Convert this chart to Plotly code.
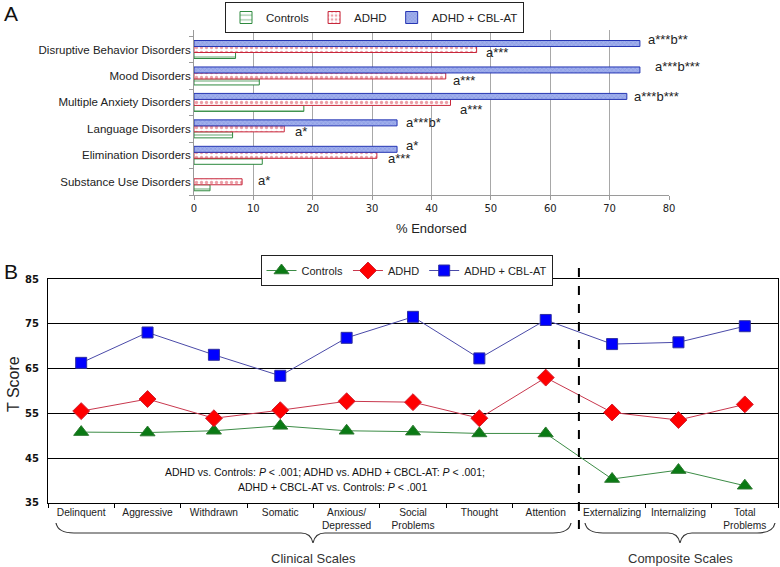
import plotly.graph_objects as go

W, H = 780, 567

# ---------------- Panel A data ----------------
disorders = ["Disruptive Behavior Disorders", "Mood Disorders", "Multiple Anxiety Disorders",
             "Language Disorders", "Elimination Disorders", "Substance Use Disorders"]
ctrl_pct = [7.0, 11.0, 18.5, 6.5, 11.5, 2.7]
adhd_pct = [47.6, 42.4, 43.2, 15.2, 30.8, 8.1]
cbl_pct = [75.1, 75.1, 72.9, 34.2, 34.2, None]
adhd_sig = ["a***", "a***", "a***", "a*", "a***", "a*"]
cbl_sig = ["a***b**", "a***b***", "a***b***", "a***b*", "a*", ""]
pct_ticks = [0, 10, 20, 30, 40, 50, 60, 70, 80]

# ---------------- Panel B data ----------------
scales = ["Delinquent", "Aggressive", "Withdrawn", "Somatic", "Anxious/<br>Depressed",
          "Social<br>Problems", "Thought", "Attention", "Externalizing", "Internalizing",
          "Total<br>Problems"]
ctrl_t = [50.8, 50.7, 51.1, 52.2, 51.1, 50.9, 50.5, 50.5, 40.3, 42.3, 38.8]
adhd_t = [55.5, 58.2, 53.9, 55.7, 57.7, 57.5, 53.9, 63.0, 55.2, 53.5, 57.0]
cbl_t = [66.3, 73.1, 68.1, 63.4, 71.9, 76.6, 67.3, 75.9, 70.5, 70.9, 74.5]
t_ticks = [35, 45, 55, 65, 75, 85]


def px(x):
    return x / W


def py(y):
    return 1 - y / H


FONT = "Liberation Sans, Arial, sans-serif"
fig = go.Figure()

# ---- Panel A bars ----
fig.add_trace(go.Bar(
    y=disorders, x=ctrl_pct, orientation="h", name="Controls", xaxis="x", yaxis="y",
    legend="legend",
    marker=dict(color="white", line=dict(color="#2f8a3f", width=1),
                pattern=dict(shape="-", fgcolor="#2f8a3f", bgcolor="white", size=6, solidity=0.25))))
fig.add_trace(go.Bar(
    y=disorders, x=adhd_pct, orientation="h", name="ADHD", xaxis="x", yaxis="y",
    legend="legend",
    marker=dict(color="white", line=dict(color="#c8283c", width=1),
                pattern=dict(shape=".", fgcolor="#d84050", bgcolor="white", size=5, solidity=0.35))))
fig.add_trace(go.Bar(
    y=disorders, x=cbl_pct, orientation="h", name="ADHD + CBL-AT", xaxis="x", yaxis="y",
    legend="legend",
    marker=dict(color="#8e9fe6", line=dict(color="#2636b4", width=1),
                pattern=dict(shape="x", fgcolor="#6678d6", bgcolor="#a0afec", size=3, solidity=0.3))))

# ---- Panel B lines ----
fig.add_trace(go.Scatter(
    x=scales, y=ctrl_t, mode="lines+markers", name="Controls", xaxis="x2", yaxis="y2",
    legend="legend2", line=dict(color="#3c8c46", width=1),
    marker=dict(symbol="triangle-up", size=13, color="#0a7a14", line=dict(color="#2c7a30", width=1))))
fig.add_trace(go.Scatter(
    x=scales, y=adhd_t, mode="lines+markers", name="ADHD", xaxis="x2", yaxis="y2",
    legend="legend2", line=dict(color="#c8384e", width=1),
    marker=dict(symbol="diamond", size=13, color="#ff0000", line=dict(color="#d02030", width=1))))
fig.add_trace(go.Scatter(
    x=scales, y=cbl_t, mode="lines+markers", name="ADHD + CBL-AT", xaxis="x2", yaxis="y2",
    legend="legend2", line=dict(color="#4a4aa8", width=1),
    marker=dict(symbol="square", size=11, color="#0000ff", line=dict(color="#3030a0", width=1))))

annotations = []
# significance labels panel A
cbl_off = [(6, 10), (13, 9), (5, 6), (7, 6), (7, 10), (0, 0)]
adhd_off = [(7, -3), (5, -5), (7, -7), (9, -3), (9, -3), (14, 1)]
for i, d in enumerate(disorders):
    if cbl_sig[i]:
        annotations.append(dict(x=cbl_pct[i], y=d, xref="x", yref="y", text=cbl_sig[i],
                                showarrow=False, xanchor="left", yanchor="middle",
                                xshift=cbl_off[i][0], yshift=cbl_off[i][1],
                                font=dict(family=FONT, size=13, color="#222")))
    annotations.append(dict(x=adhd_pct[i], y=d, xref="x", yref="y", text=adhd_sig[i],
                            showarrow=False, xanchor="left", yanchor="middle",
                            xshift=adhd_off[i][0], yshift=adhd_off[i][1],
                            font=dict(family=FONT, size=13, color="#222")))

annotations += [
    dict(x=px(2), y=py(0), xref="paper", yref="paper", text="A", showarrow=False,
         xanchor="left", yanchor="top", font=dict(family=FONT, size=21, color="#111")),
    dict(x=px(2), y=py(258), xref="paper", yref="paper", text="B", showarrow=False,
         xanchor="left", yanchor="top", font=dict(family=FONT, size=21, color="#111")),
    dict(x=px(431), y=py(228), xref="paper", yref="paper", text="% Endorsed", showarrow=False,
         xanchor="center", yanchor="middle", font=dict(family=FONT, size=13, color="#222")),
    dict(x=px(13), y=py(384), xref="paper", yref="paper", text="T Score", showarrow=False,
         textangle=-90, xanchor="center", yanchor="middle",
         font=dict(family=FONT, size=16, color="#222")),
    dict(x=px(325), y=py(472), xref="paper", yref="paper",
         text="ADHD vs. Controls: <i>P</i> &lt; .001; ADHD vs. ADHD + CBCL-AT: <i>P</i> &lt; .001;",
         showarrow=False, xanchor="center", yanchor="middle",
         font=dict(family=FONT, size=10.5, color="#111")),
    dict(x=px(332), y=py(487), xref="paper", yref="paper",
         text="ADHD + CBCL-AT vs. Controls: <i>P</i> &lt; .001",
         showarrow=False, xanchor="center", yanchor="middle",
         font=dict(family=FONT, size=10.5, color="#111")),
    dict(x=px(313), y=py(558), xref="paper", yref="paper", text="Clinical Scales", showarrow=False,
         xanchor="center", yanchor="middle", font=dict(family=FONT, size=13, color="#333")),
    dict(x=px(680), y=py(558), xref="paper", yref="paper", text="Composite Scales", showarrow=False,
         xanchor="center", yanchor="middle", font=dict(family=FONT, size=13, color="#333")),
]


def brace(x0, x1, xm, ytop, yline, ytip):
    pts = (f"M {px(x0)},{py(ytop)} Q {px(x0 + 2)},{py(yline)} {px(x0 + 18)},{py(yline)} "
           f"L {px(xm - 12)},{py(yline)} Q {px(xm - 2)},{py(yline)} {px(xm)},{py(ytip)} "
           f"Q {px(xm + 2)},{py(yline)} {px(xm + 12)},{py(yline)} "
           f"L {px(x1 - 18)},{py(yline)} Q {px(x1 - 2)},{py(yline)} {px(x1)},{py(ytop)}")
    return dict(type="path", path=pts, xref="paper", yref="paper",
                line=dict(color="#333", width=1.2))


shapes = [
    dict(type="line", xref="x2", yref="paper", x0=7.5, x1=7.5, y0=py(529), y1=py(266),
         line=dict(color="black", width=2, dash="dash")),
    brace(56, 571, 313, 523, 533, 543),
    brace(585, 775, 680, 523, 533, 543),
]

fig.update_layout(
    width=W, height=H, margin=dict(l=0, r=0, t=0, b=0, autoexpand=False),
    paper_bgcolor="white", plot_bgcolor="white",
    font=dict(family=FONT, size=11, color="#222"),
    barmode="group", bargap=0.32, bargroupgap=0,
    xaxis=dict(domain=[px(194), px(669)], anchor="y", range=[0, 80], tickvals=pct_ticks,
               showgrid=True, gridcolor="#a8a8a8", gridwidth=1, zeroline=False, automargin=False,
               showline=True, linecolor="#9a9a9a", ticks="outside", ticklen=4,
               tickcolor="#9a9a9a", tickfont=dict(family="DejaVu Sans", size=10, color="#222")),
    yaxis=dict(domain=[py(195), py(30)], anchor="x", type="category", automargin=False,
               categoryorder="array", categoryarray=list(reversed(disorders)),
               showline=True, linecolor="#9a9a9a", ticks="outside", ticklen=4,
               tickcolor="#9a9a9a", tickson="boundaries", showgrid=False,
               tickfont=dict(family=FONT, size=11.5, color="#222")),
    xaxis2=dict(domain=[px(48), px(778)], anchor="y2", type="category", range=[-0.5, 10.5],
                showline=True, mirror=True, linecolor="black", ticks="outside", ticklen=4,
                tickcolor="black", tickson="boundaries", showgrid=False, automargin=False,
                tickangle=0,
                tickfont=dict(family=FONT, size=10.2, color="#222")),
    yaxis2=dict(domain=[py(502.7), py(279.3)], anchor="x2", range=[35, 85], tickvals=t_ticks,
                showgrid=True, gridcolor="black", gridwidth=1, zeroline=False, automargin=False,
                showline=True, mirror=True, linecolor="black", ticks="",
                ticklabelstandoff=6,
                tickfont=dict(family="DejaVu Sans", size=10, color="#111", weight="bold")),
    legend=dict(x=px(374.5), y=py(2), xanchor="center", yanchor="top", orientation="h",
                bordercolor="#222", borderwidth=1, bgcolor="white",
                font=dict(family=FONT, size=11.5, color="#222"), itemwidth=30,
                tracegroupgap=0),
    legend2=dict(x=px(406.5), y=py(255), xanchor="center", yanchor="top", orientation="h",
                 bordercolor="#222", borderwidth=1, bgcolor="white",
                 font=dict(family=FONT, size=11, color="#222"), itemwidth=30),
    annotations=annotations,
    shapes=shapes,
    showlegend=True,
)

fig.write_html("out.html", config={"displayModeBar": False},
               post_script="document.body.style.margin='0px';")
